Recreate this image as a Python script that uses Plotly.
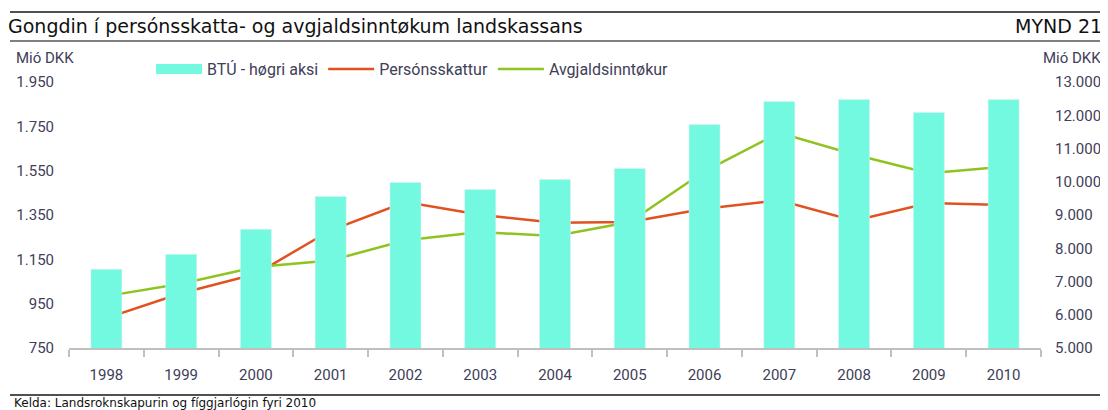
import plotly.graph_objects as go

years = ["1998", "1999", "2000", "2001", "2002", "2003", "2004",
         "2005", "2006", "2007", "2008", "2009", "2010"]
btu = [7370, 7820, 8570, 9560, 9980, 9770, 10070, 10400, 11720, 12410, 12470, 12080, 12470]
personsskattur = [885, 997, 1084, 1281, 1408, 1351, 1315, 1318, 1378, 1416, 1324, 1404, 1395]
avgjald = [984, 1040, 1115, 1145, 1236, 1273, 1255, 1318, 1547, 1721, 1623, 1538, 1568]

TEAL = "#72F9DF"
ORANGE = "#E0521F"
GREEN = "#8FC31F"
TXT = "#404058"

# page body has an 8px margin; figure sized so it ends at the window edge
OFF = 8
W, H = 1100, 402
L, R, T, B = 61, 67, 74, 62
pw, ph = W - L - R, H - T - B

def px(x):
    return (x - OFF - L) / pw

def py(y):
    return (H - B - (y - OFF)) / ph

fig = go.Figure()
fig.add_trace(go.Bar(x=years, y=btu, name="BTÚ - høgri aksi", marker_color=TEAL,
                     yaxis="y2", showlegend=False))
fig.add_trace(go.Scatter(x=[None], y=[None], mode="lines", name="BTÚ - høgri aksi",
                         line=dict(color=TEAL, width=11), yaxis="y2"))
fig.add_trace(go.Scatter(x=years, y=personsskattur, mode="lines", name="Persónsskattur",
                         line=dict(color=ORANGE, width=2.5)))
fig.add_trace(go.Scatter(x=years, y=avgjald, mode="lines", name="Avgjaldsinntøkur",
                         line=dict(color=GREEN, width=2.5)))

fig.update_layout(
    width=W, height=H,
    margin=dict(l=L, r=R, t=T, b=B, autoexpand=False),
    paper_bgcolor="white", plot_bgcolor="white",
    separators=",.",
    bargap=0.585,
    font=dict(family="Roboto", size=15, color=TXT),
    xaxis=dict(type="category", showgrid=False, showline=True, linecolor="#C0C0C0",
               linewidth=2, ticks="outside", tickson="boundaries", ticklen=7,
               tickcolor="#C0C0C0", tickwidth=2, tickfont=dict(size=15, color=TXT),
               ticklabelstandoff=12, automargin=False),
    yaxis=dict(range=[750, 1950], dtick=200, tick0=750, showgrid=False, zeroline=False,
               tickformat=",.0f", ticklabelstandoff=14, tickfont=dict(size=15, color=TXT),
               automargin=False),
    yaxis2=dict(range=[5000, 13000], dtick=1000, overlaying="y", side="right",
                showgrid=False, zeroline=False, tickformat=",.0f", ticklabelstandoff=13,
                tickfont=dict(size=15, color=TXT), automargin=False),
    legend=dict(orientation="h", x=px(151), xanchor="left", y=py(69), yanchor="middle",
                font=dict(size=16, color=TXT), itemwidth=46, bgcolor="rgba(0,0,0,0)"),
    showlegend=True,
)

line_dark = dict(color="#505050", width=2)
line_gray = dict(color="#808080", width=2)
fig.add_shape(type="line", xref="paper", yref="paper", x0=px(10), x1=px(1110),
              y0=py(12), y1=py(12), line=line_dark)
fig.add_shape(type="line", xref="paper", yref="paper", x0=px(10), x1=px(1110),
              y0=py(41), y1=py(41), line=line_gray)
fig.add_shape(type="line", xref="paper", yref="paper", x0=px(10), x1=px(1110),
              y0=py(395), y1=py(395), line=line_dark)

fig.add_annotation(text="Gongdin í persónsskatta- og avgjaldsinntøkum landskassans",
                   xref="paper", yref="paper", x=px(6), y=py(26), xanchor="left",
                   yanchor="middle", showarrow=False,
                   font=dict(family="DejaVu Sans", size=19, color="#111111"))
fig.add_annotation(text="MYND 21", xref="paper", yref="paper", x=px(1104), y=py(26),
                   xanchor="right", yanchor="middle", showarrow=False,
                   font=dict(family="DejaVu Sans", size=19, color="#111111"))
fig.add_annotation(text="Mió DKK", xref="paper", yref="paper", x=px(14), y=py(58),
                   xanchor="left", yanchor="middle", showarrow=False,
                   font=dict(family="Roboto", size=15, color=TXT))
fig.add_annotation(text="Mió DKK", xref="paper", yref="paper", x=px(1103), y=py(58),
                   xanchor="right", yanchor="middle", showarrow=False,
                   font=dict(family="Roboto", size=15, color=TXT))
fig.add_annotation(text="Kelda: Landsroknskapurin og fíggjarlógin fyri 2010",
                   xref="paper", yref="paper", x=px(12), y=py(403), xanchor="left",
                   yanchor="middle", showarrow=False,
                   font=dict(family="DejaVu Sans", size=12, color="#111111"))

fig.write_html("out.html")
